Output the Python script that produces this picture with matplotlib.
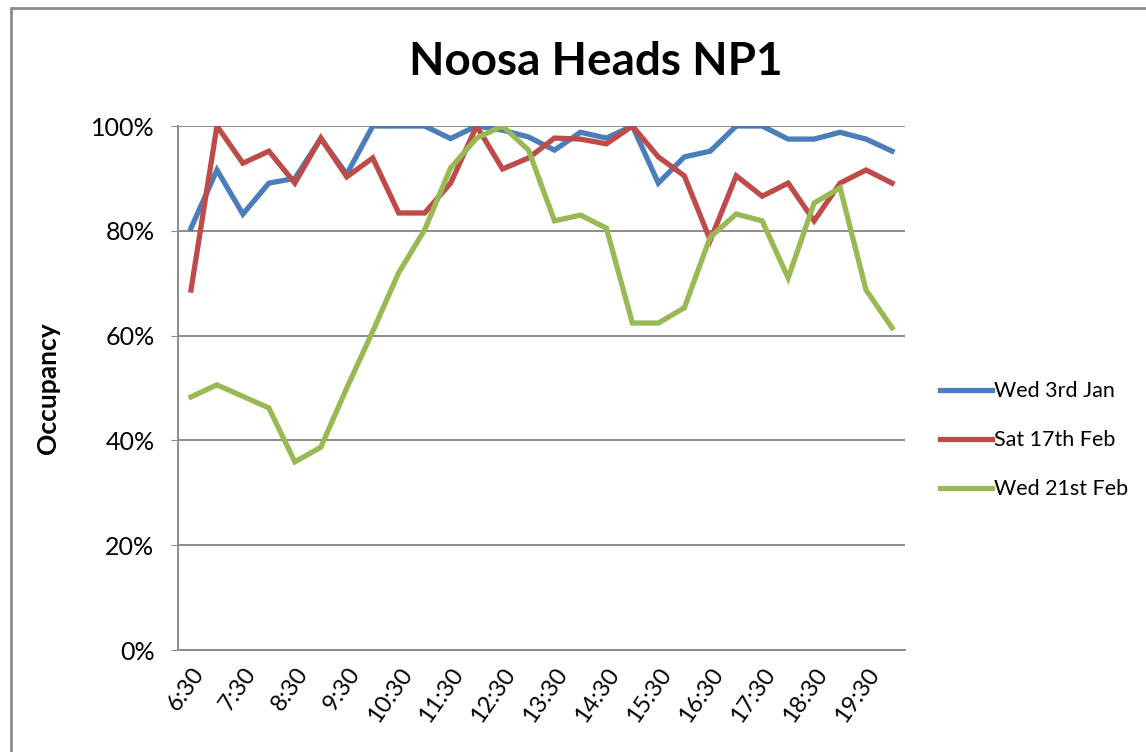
import matplotlib
matplotlib.use("Agg")
import matplotlib.pyplot as plt
import matplotlib.transforms as mtransforms
from matplotlib.patches import Rectangle

# ----------------------------------------------------------------- data
times = ["6:30", "7:00", "7:30", "8:00", "8:30", "9:00", "9:30", "10:00",
         "10:30", "11:00", "11:30", "12:00", "12:30", "13:00", "13:30",
         "14:00", "14:30", "15:00", "15:30", "16:00", "16:30", "17:00",
         "17:30", "18:00", "18:30", "19:00", "19:30", "20:00"]

wed_3rd_jan = [80.5, 91.6, 83.2, 89.1, 90.0, 97.6, 90.8, 100, 100, 100,
               97.6, 100, 99.2, 97.9, 95.4, 98.8, 97.7, 100, 89.1, 94.1,
               95.2, 100, 100, 97.5, 97.5, 98.8, 97.5, 95.2]

sat_17th_feb = [68.7, 100, 92.9, 95.2, 89.1, 97.7, 90.3, 93.9, 83.4, 83.4,
                89.1, 100, 91.8, 93.9, 97.7, 97.5, 96.6, 100, 94.1, 90.5,
                78.2, 90.5, 86.6, 89.1, 81.9, 89.1, 91.6, 89.1]

wed_21st_feb = [48.3, 50.6, 48.4, 46.2, 35.9, 38.7, 50.0, 60.8, 72.0, 80.2,
                92.0, 97.7, 100, 95.4, 81.9, 83.0, 80.5, 62.4, 62.4, 65.3,
                78.8, 83.2, 81.9, 71.0, 85.3, 88.2, 68.7, 61.5]

series_names = ["Wed 3rd Jan", "Sat 17th Feb", "Wed 21st Feb"]
series_colors = ["#4a7ebb", "#be4b48", "#98b954"]

# ----------------------------------------------------------------- plot
plt.rcParams['font.family'] = ['Lato', 'DejaVu Sans']

fig = plt.figure(figsize=(11.46, 7.52), dpi=100)
ax = fig.add_axes([178 / 1146, 1 - 650 / 752, 727 / 1146, 524 / 752])

# outer chart border (only left and top edges are in view)
fig.patches.append(Rectangle((11 / 1146, -0.5), 2, 1.5 - 8 / 752,
                             transform=fig.transFigure, fill=False,
                             edgecolor="#8c8c8c", linewidth=2))

x = list(range(len(times)))
for vals, name, col in zip([wed_3rd_jan, sat_17th_feb, wed_21st_feb],
                           series_names, series_colors):
    ax.plot(x, vals, color=col, linewidth=3.8, label=name,
            solid_joinstyle="miter")

ax.set_xlim(-0.5, len(times) - 0.5)
ax.set_ylim(0, 100)
ax.set_yticks(range(0, 101, 20))
ax.set_yticklabels([f"{v}%" for v in range(0, 101, 20)], fontsize=18)
ax.set_xticks(x[::2])
ax.set_xticklabels(times[::2], rotation=55, ha="right", va="top",
                   rotation_mode="anchor", fontsize=17)
shift = mtransforms.ScaledTranslation(16 / 100, 0, fig.dpi_scale_trans)
for lab in ax.get_xticklabels():
    lab.set_transform(lab.get_transform() + shift)

ax.grid(axis="y", color="#8c8c8c", linewidth=1.4)
ax.set_axisbelow(True)
for s in ["top", "right"]:
    ax.spines[s].set_visible(False)
for s in ["left", "bottom"]:
    ax.spines[s].set_color("#8c8c8c")
    ax.spines[s].set_linewidth(1.4)
ax.tick_params(axis="y", length=5, color="#8c8c8c", pad=12)
ax.tick_params(axis="x", length=0, pad=10)

ax.set_ylabel("Occupancy", fontsize=19, fontweight="bold", labelpad=22)

fig.text(596 / 1146, 1 - 62 / 752, "Noosa Heads NP1", fontsize=33,
         fontweight="bold", ha="center", va="center")

ax.legend(loc="center left", bbox_to_anchor=(1.022, 0.40), frameon=False,
          fontsize=15.5, handlelength=2.4, handletextpad=0.1,
          labelspacing=1.35)

fig.savefig("out.png", dpi=100)
